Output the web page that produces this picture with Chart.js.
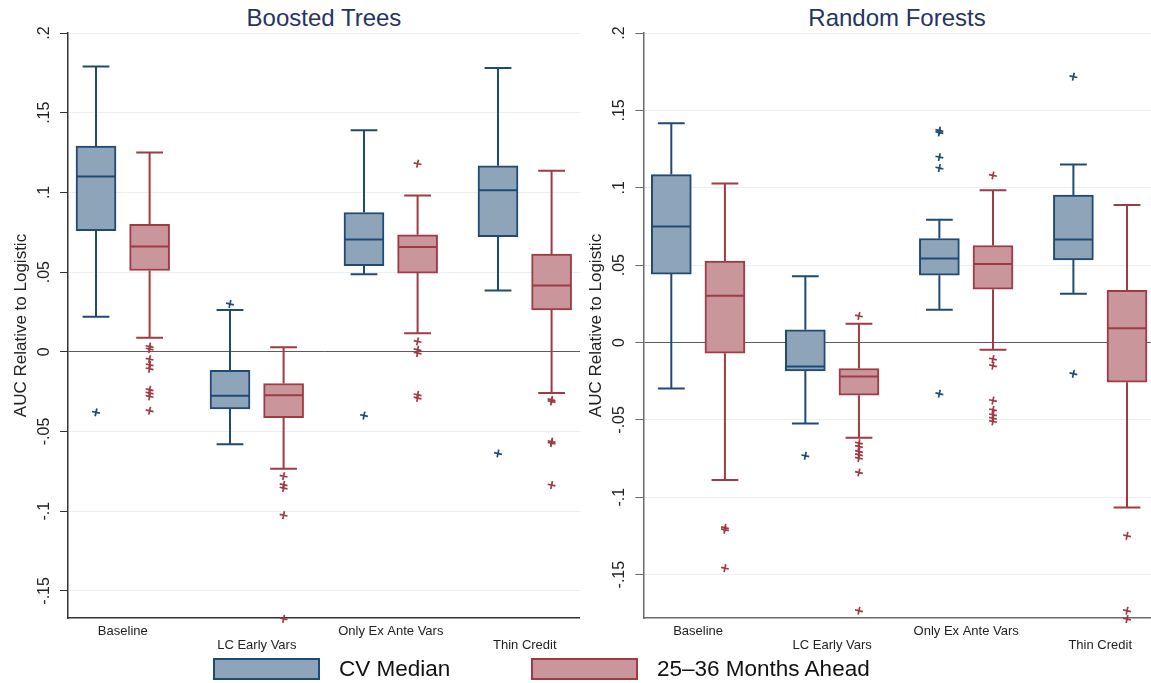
<!DOCTYPE html>
<html>
<head>
<meta charset="utf-8">
<title>AUC relative to logistic</title>
<script src="https://cdn.jsdelivr.net/npm/chart.js@4.4.1/dist/chart.umd.min.js"></script>
<style>
  body { margin: 0; background: #fff; font-family: "Liberation Sans", Arial, sans-serif; }
  #wrap { position: relative; width: 1151px; height: 683px; overflow: hidden; }
  canvas { position: absolute; top: 0; }
  .title { position: absolute; top: 5px; font-size: 24px; line-height: 26px; color: #26345f; text-align: center; }
  .key { position: absolute; top: 658px; width: 107px; height: 22px; box-sizing: border-box; border: 2px solid; }
  .keytext { position: absolute; top: 656px; font-size: 22.5px; line-height: 26px; color: #111; white-space: nowrap; }
</style>
</head>
<body>
<div id="wrap">
  <div class="title" style="left:68px;width:512px">Boosted Trees</div>
  <div class="title" style="left:643px;width:508px">Random Forests</div>
  <canvas id="bt" width="580" height="660" style="left:0"></canvas>
  <canvas id="rf" width="571" height="660" style="left:580px"></canvas>
  <div class="key" style="left:213px;background:#8ea4b9;border-color:#1f4a74"></div>
  <div class="keytext" style="left:339px">CV Median</div>
  <div class="key" style="left:531px;background:#c9979b;border-color:#a03a44"></div>
  <div class="keytext" style="left:657px">25–36 Months Ahead</div>
</div>
<script>
const categories = ['Baseline', 'LC Early Vars', 'Only Ex Ante Vars', 'Thin Credit'];

// Boosted Trees, CV median
const btCvLow  = [0.022, -0.058, 0.0487, 0.0385];
const btCvQ1   = [0.076, -0.0358, 0.054, 0.0723];
const btCvMed  = [0.110, -0.0276, 0.0705, 0.1014];
const btCvQ3   = [0.129, -0.0117, 0.0874, 0.1167];
const btCvHigh = [0.179, 0.0263, 0.139, 0.178];
const btCvOut  = [[-0.038], [0.030], [-0.040], [-0.0638]];

// Boosted Trees, 25-36 months ahead
const btAhLow  = [0.0088, -0.0734, 0.0117, -0.0259];
const btAhQ1   = [0.051, -0.0414, 0.0494, 0.0263];
const btAhMed  = [0.066, -0.0272, 0.0657, 0.0416];
const btAhQ3   = [0.080, -0.0199, 0.0734, 0.0613];
const btAhHigh = [0.125, 0.0029, 0.098, 0.1136];
const btAhOut  = [
  [0.0033, 0.0017, -0.0046, -0.0082, -0.0107, -0.0238, -0.0259, -0.028, -0.037],
  [-0.078, -0.0834, -0.0855, -0.1025, -0.1675],
  [0.118, 0.0065, 0.0013, -0.0008, -0.027, -0.029],
  [-0.0301, -0.0312, -0.0563, -0.0573, -0.0836]
];

// Random Forests, CV median
const rfCvLow  = [-0.0297, -0.0523, 0.0211, 0.0315];
const rfCvQ1   = [0.0442, -0.0183, 0.0435, 0.0534];
const rfCvMed  = [0.0749, -0.0155, 0.0543, 0.0665];
const rfCvQ3   = [0.1085, 0.0082, 0.0672, 0.0952];
const rfCvHigh = [0.1417, 0.0429, 0.0793, 0.115];
const rfCvOut  = [[], [-0.0732], [0.137, 0.1357, 0.1198, 0.1127, -0.0331], [0.1718, -0.0202]];

// Random Forests, 25-36 months ahead
const rfAhLow  = [-0.0889, -0.0616, -0.0047, -0.1066];
const rfAhQ1   = [-0.0069, -0.034, 0.0345, -0.0256];
const rfAhMed  = [0.0302, -0.022, 0.0508, 0.0093];
const rfAhQ3   = [0.0526, -0.0168, 0.0627, 0.0338];
const rfAhHigh = [0.1027, 0.0121, 0.0984, 0.0888];
const rfAhOut  = [
  [-0.1197, -0.121, -0.1458],
  [0.0172, -0.065, -0.0672, -0.0704, -0.0725, -0.0747, -0.084, -0.1733],
  [0.108, -0.0107, -0.015, -0.0375, -0.0435, -0.0467, -0.0489, -0.051],
  [-0.1249, -0.1733, -0.1787]
];

const BLUE_LINE = '#1f4a74', BLUE_FILL = '#8ea4b9';
const RED_LINE = '#a03a44', RED_FILL = '#c9979b';
const FONT = 'Liberation Sans';

// one box series -> floating bars (boxes), a broken line (whiskers, caps, medians), scatter (outliers)
function boxSeries(label, offset, low, q1, med, q3, high, outliers, line, fill) {
  const boxes = q1.map((v, i) => ({ x: i + 1 + offset, y: [v, q3[i]] }));
  const whiskers = [];
  q1.forEach((v, i) => {
    const x = i + 1 + offset;
    whiskers.push(
      { x, y: q3[i] }, { x, y: high[i] }, { x, y: null },
      { x: x - 0.1, y: high[i] }, { x: x + 0.1, y: high[i] }, { x, y: null },
      { x, y: v }, { x, y: low[i] }, { x, y: null },
      { x: x - 0.1, y: low[i] }, { x: x + 0.1, y: low[i] }, { x, y: null },
      { x: x - 0.142, y: med[i] }, { x: x + 0.142, y: med[i] }, { x, y: null }
    );
  });
  const points = [];
  outliers.forEach((list, i) => list.forEach(y => points.push({ x: i + 1 + offset, y })));
  return [
    { type: 'bar', label, data: boxes, backgroundColor: fill, borderColor: line, borderWidth: 2,
      borderSkipped: false, barThickness: 40, grouped: false, order: 2 },
    { type: 'line', data: whiskers, borderColor: line, borderWidth: 2, pointRadius: 0,
      spanGaps: false, fill: false, order: 1 },
    { type: 'scatter', data: points, pointStyle: 'cross', radius: 4, borderColor: line,
      borderWidth: 1.7, rotation: 12, clip: false, order: 0 }
  ];
}

function tickText(v) {
  const s = String(Math.round(v * 100) / 100);
  return s.replace(/^(-?)0\./, '$1.');
}

function makeChart(id, datasets, yMin, xMax, axisWidth, titlePad, axisColor) {
  return new Chart(document.getElementById(id), {
    type: 'bar',
    data: { datasets },
    options: {
      responsive: false,
      animation: false,
      layout: { autoPadding: false, padding: { top: 33, right: 0, bottom: 0, left: 0 } },
      plugins: { legend: { display: false }, tooltip: { enabled: false } },
      scales: {
        x: {
          type: 'linear', min: 0.591, max: xMax, offset: false,
          grid: { display: false, offset: false, drawOnChartArea: false, drawTicks: false, color: 'rgba(0,0,0,0)' },
          border: { display: true, color: axisColor, width: 1.5 },
          afterBuildTicks: s => { s.ticks = categories.map((c, i) => ({ value: i + 1 })); },
          afterFit: s => { s.height = 42; s.paddingLeft = 0; s.paddingRight = 0; },
          ticks: {
            autoSkip: false, maxRotation: 0, minRotation: 0, padding: 6, color: '#222',
            font: { family: FONT, size: 13, lineHeight: '14px' },
            callback: (v, i) => i % 2 ? ['', categories[i]] : categories[i]
          }
        },
        y: {
          min: yMin, max: 0.2,
          afterFit: s => { s.width = axisWidth; },
          ticks: {
            stepSize: 0.05, includeBounds: false, minRotation: 90, maxRotation: 90,
            crossAlign: 'center', padding: 2, color: '#222',
            font: { family: FONT, size: 16 }, callback: tickText
          },
          grid: {
            color: ctx => (ctx.tick && Math.abs(ctx.tick.value) < 1e-9) ? '#5c5c5c' : '#e8f0f2',
            tickColor: axisColor, tickLength: 8, lineWidth: 1
          },
          border: { color: axisColor, width: 1.5 },
          title: {
            display: true, text: 'AUC Relative to Logistic', color: '#222',
            font: { family: FONT, size: 17 }, padding: { top: titlePad, bottom: 0 }
          }
        }
      }
    }
  });
}

makeChart('bt', [
  ...boxSeries('CV Median', -0.2, btCvLow, btCvQ1, btCvMed, btCvQ3, btCvHigh, btCvOut, BLUE_LINE, BLUE_FILL),
  ...boxSeries('25–36 Months Ahead', 0.2, btAhLow, btAhQ1, btAhMed, btAhQ3, btAhHigh, btAhOut, RED_LINE, RED_FILL)
], -0.167, 4.412, 68, 11, '#333');

makeChart('rf', [
  ...boxSeries('CV Median', -0.2, rfCvLow, rfCvQ1, rfCvMed, rfCvQ3, rfCvHigh, rfCvOut, BLUE_LINE, BLUE_FILL),
  ...boxSeries('25–36 Months Ahead', 0.2, rfAhLow, rfAhQ1, rfAhMed, rfAhQ3, rfAhHigh, rfAhOut, RED_LINE, RED_FILL)
], -0.178, 4.379, 63.3, 6, '#6a6a6a');
</script>
</body>
</html>
